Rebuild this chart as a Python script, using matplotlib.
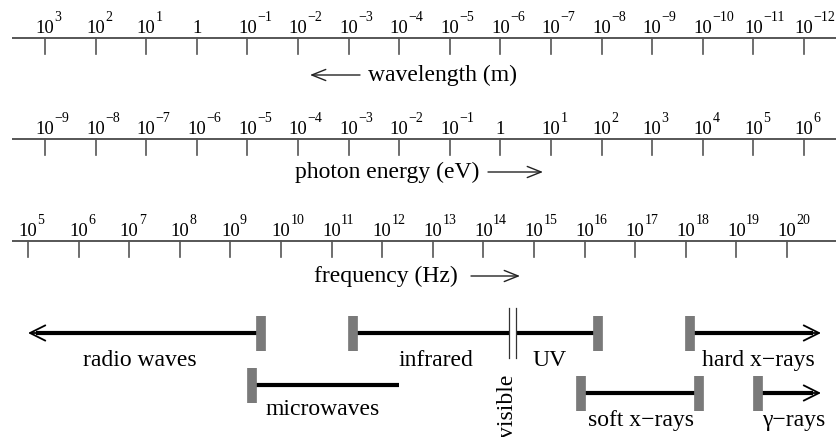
import matplotlib.pyplot as plt
from matplotlib.patches import FancyArrowPatch

plt.rcParams['font.family'] = ['Liberation Serif', 'DejaVu Serif']

# horizontal coordinate is log10(frequency / Hz); vertical is in pixels from the top
freq_exps = list(range(5, 21))
wave_exps = list(range(3, -13, -1))
energy_exps = list(range(-9, 7))
wave_shift = 8.336      # position = wave_shift - exponent
energy_shift = 14.336   # position = exponent + energy_shift

# bands: name, start, end, row y, start style, end style
bands = [
    ('radio waves', 5.0, 9.595, 333, 'arrow', 'box'),
    ('microwaves', 9.427, 12.332, 385, 'box', 'none'),
    ('infrared', 11.423, 14.506, 333, 'box', 'none'),
    ('UV', 14.645, 16.255, 333, 'none', 'box'),
    ('hard x\u2212rays', 18.083, 20.672, 333, 'box', 'arrow'),
    ('soft x\u2212rays', 15.919, 18.251, 393, 'box', 'box'),
    ('\u03b3\u2212rays', 19.417, 20.672, 393, 'box', 'arrow'),
]
band_label_x = [7.214, 10.83, 13.07, 15.307, 19.437, 17.115, 20.129]
band_label_y = [366, 415, 366, 366, 366, 426, 426]
visible_edges = [14.506, 14.645]

ppd = 50.6               # pixels per decade
x0 = 5 - 28 / ppd
W, H = 836, 437

fig = plt.figure(figsize=(W / 100, H / 100), dpi=100)
ax = fig.add_axes([0, 0, 1, 1])
ax.set_xlim(x0, x0 + W / ppd)
ax.set_ylim(H, 0)
ax.axis('off')

px = 1 / ppd
line_col = '#3a3a3a'
tick_col = '#555555'


def draw_scale(positions, exps, y_line):
    ax.plot([x0 + 12 * px, x0 + W * px], [y_line, y_line], color=line_col, lw=1.2,
            solid_capstyle='butt')
    for x, e in zip(positions, exps):
        ax.plot([x, x], [y_line, y_line + 16], color=tick_col, lw=1.2)
        if e == 0:
            ax.text(x, y_line - 5, '1', ha='center', va='baseline', fontsize=13.5)
        else:
            ax.text(x, y_line - 5, '10', ha='center', va='baseline', fontsize=13.5)
            ax.text(x + 9.5 * px, y_line - 17, str(e).replace('-', '\u2212'),
                    ha='left', va='baseline', fontsize=10)


def arrow(xa, xb, y, hl, hw, lw, col, z=2):
    ax.add_patch(FancyArrowPatch((xa, y), (xb, y),
                                 arrowstyle=f'->,head_length={hl},head_width={hw}',
                                 mutation_scale=1, lw=lw, color=col,
                                 shrinkA=0, shrinkB=0, zorder=z))


draw_scale([wave_shift - e for e in wave_exps], wave_exps, 38)
draw_scale([e + energy_shift for e in energy_exps], energy_exps, 139)
draw_scale(freq_exps, freq_exps, 241)

ax.text(x0 + 368 * px, 75, 'wavelength (m)', ha='left', va='center', fontsize=17)
arrow(x0 + 360 * px, x0 + 310 * px, 75, 10, 4, 1.0, '#222222')
ax.text(x0 + 479 * px, 172, 'photon energy (eV)', ha='right', va='center', fontsize=17)
arrow(x0 + 488 * px, x0 + 543 * px, 172, 10, 4, 1.0, '#222222')
ax.text(x0 + 458 * px, 276, 'frequency (Hz)', ha='right', va='center', fontsize=17)
arrow(x0 + 471 * px, x0 + 520 * px, 276, 10, 4, 1.0, '#222222')

box_col = '#7a7a7a'
for (name, a, b, y, sa, sb), lx, ly in zip(bands, band_label_x, band_label_y):
    la = a + (8 * px if sa == 'arrow' else 0)
    lb = b - (8 * px if sb == 'arrow' else 0)
    ax.plot([la, lb], [y, y], color='black', lw=3, solid_capstyle='butt', zorder=2)
    for x, s in ((a, sa), (b, sb)):
        if s == 'box':
            ax.plot([x, x], [y - 17, y + 18], color=box_col, lw=7, solid_capstyle='butt', zorder=3)
        elif s == 'arrow':
            other = b if x == a else a
            start = x + (12 * px if other > x else -12 * px)
            arrow(start, x, y, 11, 5.5, 1.3, 'black')
    ax.text(lx, ly, name, ha='center', va='baseline', fontsize=17)

for x in visible_edges:
    ax.plot([x, x], [308, 358], color='#333333', lw=0.9)
ax.text(x0 + 507 * px, 406, 'visible', rotation=90, ha='center', va='center', fontsize=17)

fig.savefig('out.png', dpi=100)
